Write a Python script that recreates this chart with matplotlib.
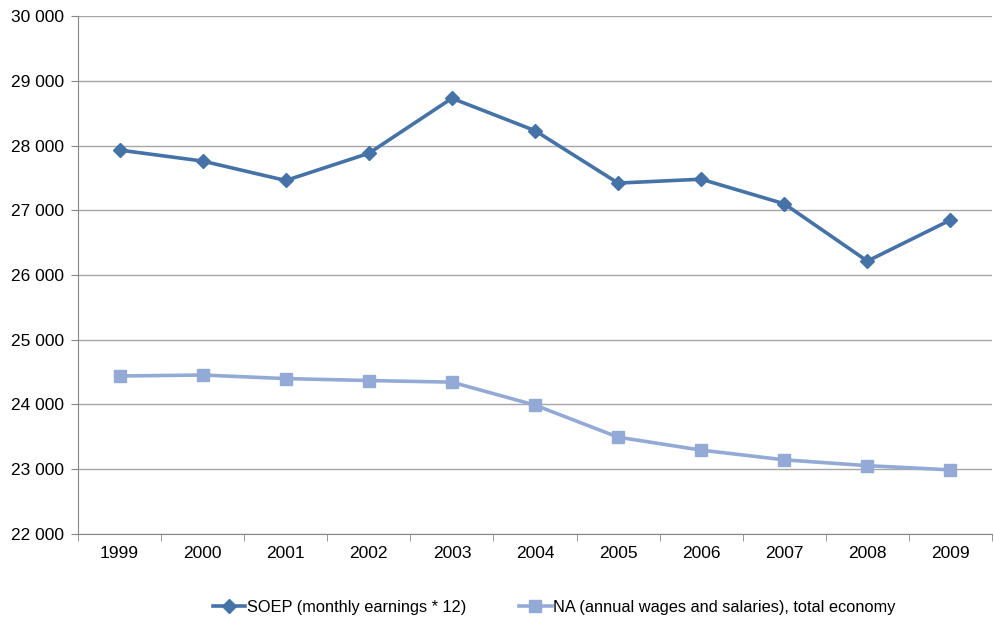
import matplotlib
matplotlib.use("Agg")
import matplotlib.pyplot as plt
from matplotlib.ticker import FuncFormatter, MultipleLocator, FixedLocator

YEARS = ["1999", "2000", "2001", "2002", "2003", "2004", "2005", "2006", "2007", "2008", "2009"]
SOEP = [27930, 27760, 27460, 27880, 28730, 28230, 27420, 27480, 27100, 26215, 26850]
NA = [24440, 24455, 24400, 24370, 24345, 23990, 23495, 23295, 23145, 23055, 22990]

SOEP_LABEL = "SOEP (monthly earnings * 12)"
NA_LABEL = "NA (annual wages and salaries), total economy"

plt.rcParams["font.family"] = ["Liberation Sans", "DejaVu Sans"]

fig = plt.figure(figsize=(9.95, 6.18), dpi=100)
ax = fig.add_axes([0.0784, 0.136, 0.9186, 0.838])

x = list(range(len(YEARS)))
ax.plot(x, SOEP, color="#4572A7", lw=2.6, marker="D", ms=7, label=SOEP_LABEL)
ax.plot(x, NA, color="#93AAD6", lw=2.6, marker="s", ms=8, label=NA_LABEL)

ax.set_xlim(-0.5, len(YEARS) - 0.5)
ax.set_ylim(22000, 30000)
ax.yaxis.set_major_locator(MultipleLocator(1000))
ax.yaxis.set_major_formatter(FuncFormatter(lambda v, p: f"{int(v):,}".replace(",", " ")))
ax.grid(axis="y", color="#A6A6A6", lw=1.0)
ax.set_axisbelow(True)

# category labels centered, tick marks between categories
ax.set_xticks(x)
ax.set_xticklabels(YEARS)
ax.tick_params(axis="x", which="major", length=0, pad=9, labelsize=12.5)
ax.xaxis.set_minor_locator(FixedLocator([i - 0.5 for i in range(len(YEARS) + 1)]))
ax.tick_params(axis="x", which="minor", length=5, color="#868686", direction="out")
ax.tick_params(axis="y", length=5, color="#868686", labelsize=12.5, pad=5)

for side in ["top", "right"]:
    ax.spines[side].set_visible(False)
for side in ["left", "bottom"]:
    ax.spines[side].set_color("#868686")

fig.legend(loc="lower center", bbox_to_anchor=(0.557, -0.019), ncol=2, frameon=False,
           handlelength=2.0, handletextpad=0.1, columnspacing=3.2,
           prop={"family": ["Liberation Sans"], "size": 11.8})

fig.savefig("out.png", dpi=100)
